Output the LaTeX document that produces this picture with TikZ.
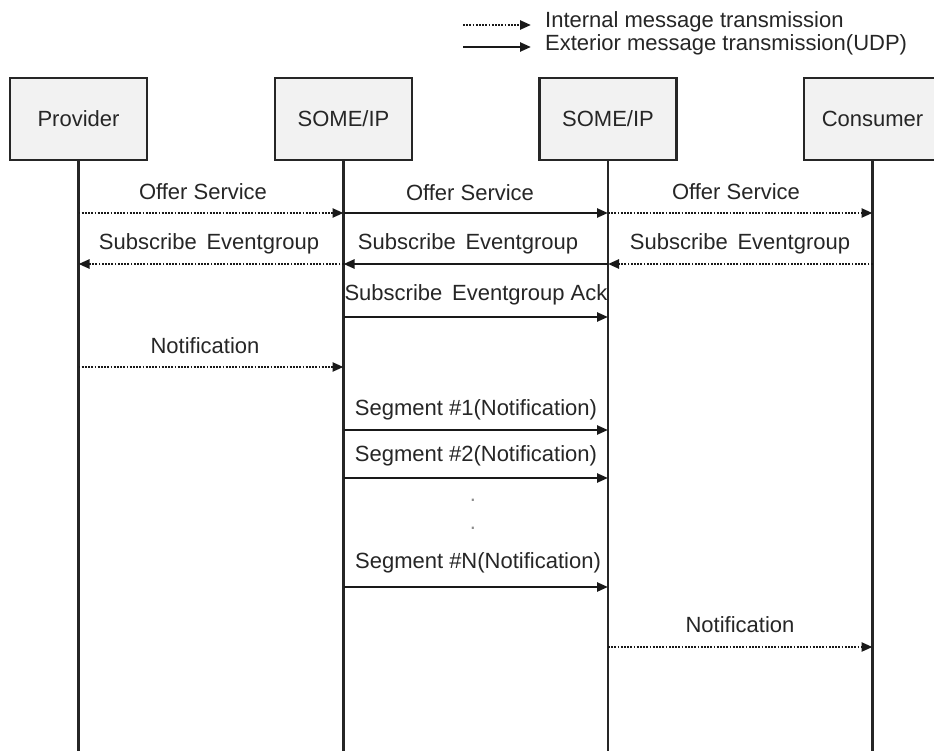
\documentclass[tikz,border=0pt]{standalone}
\usepackage{fontspec}
\setmainfont{Liberation Sans}
\usetikzlibrary{arrows.meta}
\begin{document}
\begin{tikzpicture}[x=1pt,y=-1pt,
  font=\fontsize{22}{26}\selectfont,
  every node/.style={text=black!85},
  actor/.style={draw=black!85,line width=2.6pt,fill=black!5,minimum width=137pt,minimum height=82pt,inner sep=0pt},
  life/.style={draw=black!85,line width=2.8pt},
  tip/.style={-{Triangle[length=11pt,width=9pt]}},
  ext/.style={tip,line width=2.4pt,draw=black!90},
  int/.style={tip,line width=2.4pt,draw=black!90,dash pattern=on 1.8pt off 1.4pt},
  lbl/.style={inner sep=0pt,anchor=center},
  dotmark/.style={inner sep=0pt,text=black!45}]
\useasboundingbox (0,0) rectangle (934,751);
\fill[white] (0,0) rectangle (934,751);
% legend
\coordinate (la) at (463,25);
\coordinate (lb) at (531,25);
\coordinate (lc) at (463,47);
\coordinate (ld) at (531,47);
\draw[int] (la) -- (lb);
\draw[ext] (lc) -- (ld);
\node[lbl,anchor=west] (lt1) at (545,22) {Internal message transmission};
\node[lbl,anchor=west] (lt2) at (545,45) {Exterior message transmission(UDP)};
% actors
\node[actor] (p) at (78.5,119) {Provider};
\node[actor] (s1) at (343.5,119) {SOME/IP};
\node[actor] (s2) at (608,119) {SOME/IP};
\node[actor] (c) at (872.5,119) {Consumer};
\coordinate (bot) at (0,760);
\foreach \n in {p,s1,s2,c} \draw[life] (\n.south) -- (\n |- bot);
% rows
\coordinate (r1) at (0,213);
\coordinate (r2) at (0,264);
\coordinate (r3) at (0,317);
\coordinate (r4) at (0,367);
\coordinate (r5) at (0,430);
\coordinate (r6) at (0,478);
\coordinate (r7) at (0,587);
\coordinate (r8) at (0,647);
% Offer Service
\draw[int] (p |- r1) -- (s1 |- r1);
\draw[ext] (s1 |- r1) -- (s2 |- r1);
\draw[int] (s2 |- r1) -- (c |- r1);
\node[lbl] (o1) at (203,192) {Offer Service};
\node[lbl] (o2) at (470,193) {Offer Service};
\node[lbl] (o3) at (736,192) {Offer Service};
% Subscribe
\draw[int] (c |- r2) -- (s2 |- r2);
\draw[ext] (s2 |- r2) -- (s1 |- r2);
\draw[int] (s1 |- r2) -- (p |- r2);
\node[lbl] (e1) at (209,244) {Subscribe\, Eventgroup};
\node[lbl] (e2) at (468,244) {Subscribe\, Eventgroup};
\node[lbl] (e3) at (740,244) {Subscribe\, Eventgroup};
% Ack
\draw[ext] (s1 |- r3) -- (s2 |- r3);
\node[lbl] (a1) at (476,295) {Subscribe\, Eventgroup Ack};
% Notification
\draw[int] (p |- r4) -- (s1 |- r4);
\node[lbl] (n1) at (205,346) {Notification};
% Segments
\draw[ext] (s1 |- r5) -- (s2 |- r5);
\node[lbl] (g1) at (476,410) {Segment \#1(Notification)};
\draw[ext] (s1 |- r6) -- (s2 |- r6);
\node[lbl] (g2) at (476,456) {Segment \#2(Notification)};
\node[dotmark] (d1) at (473,500) {.};
\node[dotmark] (d2) at (473,528) {.};
\draw[ext] (s1 |- r7) -- (s2 |- r7);
\node[lbl] (g3) at (478,563) {Segment \#N(Notification)};
% final notification
\draw[int] (s2 |- r8) -- (c |- r8);
\node[lbl] (n2) at (740,625) {Notification};
\end{tikzpicture}
\end{document}
